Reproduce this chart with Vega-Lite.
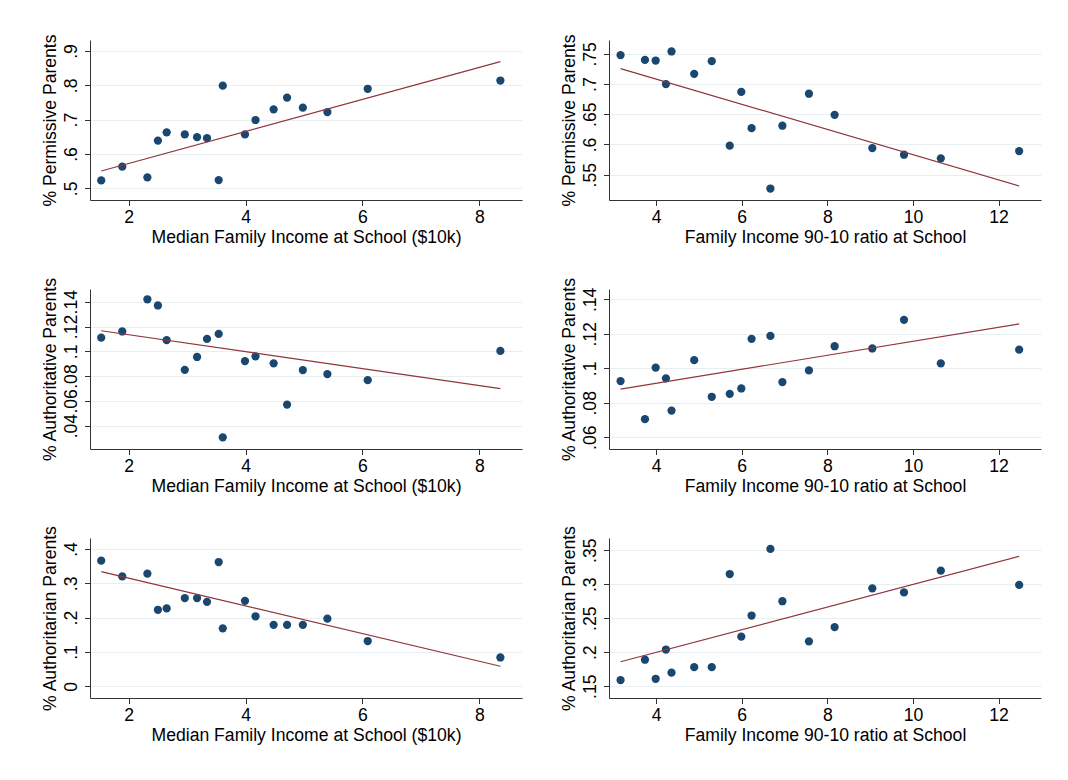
{
  "$schema": "https://vega.github.io/schema/vega-lite/v6.json",
  "background": "white",
  "padding": {"left": 41, "top": 33, "right": 5, "bottom": 5},
  "autosize": {"type": "pad"},
  "datasets": {
    "income": [
      {"income": 1.53, "permissive": 0.523, "authoritative": 0.111, "authoritarian": 0.366},
      {"income": 1.89, "permissive": 0.563, "authoritative": 0.116, "authoritarian": 0.320},
      {"income": 2.32, "permissive": 0.532, "authoritative": 0.142, "authoritarian": 0.328},
      {"income": 2.50, "permissive": 0.639, "authoritative": 0.137, "authoritarian": 0.223},
      {"income": 2.65, "permissive": 0.663, "authoritative": 0.109, "authoritarian": 0.227},
      {"income": 2.96, "permissive": 0.657, "authoritative": 0.085, "authoritarian": 0.257},
      {"income": 3.17, "permissive": 0.649, "authoritative": 0.0954, "authoritarian": 0.257},
      {"income": 3.34, "permissive": 0.646, "authoritative": 0.110, "authoritarian": 0.246},
      {"income": 3.54, "permissive": 0.524, "authoritative": 0.114, "authoritarian": 0.362},
      {"income": 3.61, "permissive": 0.799, "authoritative": 0.0305, "authoritarian": 0.169},
      {"income": 3.99, "permissive": 0.657, "authoritative": 0.0921, "authoritarian": 0.249},
      {"income": 4.17, "permissive": 0.699, "authoritative": 0.0959, "authoritarian": 0.204},
      {"income": 4.48, "permissive": 0.730, "authoritative": 0.0903, "authoritarian": 0.179},
      {"income": 4.71, "permissive": 0.764, "authoritative": 0.057, "authoritarian": 0.179},
      {"income": 4.98, "permissive": 0.735, "authoritative": 0.0848, "authoritarian": 0.179},
      {"income": 5.40, "permissive": 0.722, "authoritative": 0.0816, "authoritarian": 0.197},
      {"income": 6.09, "permissive": 0.790, "authoritative": 0.0767, "authoritarian": 0.132},
      {"income": 8.36, "permissive": 0.814, "authoritative": 0.1003, "authoritarian": 0.084}
    ],
    "fitIncome": [
      {"income": 1.53, "permissive": 0.5505, "authoritative": 0.1166, "authoritarian": 0.334},
      {"income": 8.36, "permissive": 0.869, "authoritative": 0.0699, "authoritarian": 0.0585}
    ],
    "ratio": [
      {"ratio": 3.17, "permissive": 0.748, "authoritative": 0.0926, "authoritarian": 0.159},
      {"ratio": 3.74, "permissive": 0.740, "authoritative": 0.0705, "authoritarian": 0.189},
      {"ratio": 3.99, "permissive": 0.739, "authoritative": 0.1004, "authoritarian": 0.161},
      {"ratio": 4.23, "permissive": 0.700, "authoritative": 0.0942, "authoritarian": 0.204},
      {"ratio": 4.36, "permissive": 0.754, "authoritative": 0.0755, "authoritarian": 0.170},
      {"ratio": 4.89, "permissive": 0.717, "authoritative": 0.1047, "authoritarian": 0.178},
      {"ratio": 5.30, "permissive": 0.738, "authoritative": 0.0835, "authoritarian": 0.178},
      {"ratio": 5.72, "permissive": 0.598, "authoritative": 0.0852, "authoritarian": 0.315},
      {"ratio": 5.99, "permissive": 0.687, "authoritative": 0.0883, "authoritarian": 0.223},
      {"ratio": 6.23, "permissive": 0.627, "authoritative": 0.1171, "authoritarian": 0.254},
      {"ratio": 6.67, "permissive": 0.527, "authoritative": 0.1188, "authoritarian": 0.352},
      {"ratio": 6.95, "permissive": 0.631, "authoritative": 0.0920, "authoritarian": 0.275},
      {"ratio": 7.57, "permissive": 0.684, "authoritative": 0.0988, "authoritarian": 0.216},
      {"ratio": 8.17, "permissive": 0.649, "authoritative": 0.1128, "authoritarian": 0.237},
      {"ratio": 9.05, "permissive": 0.594, "authoritative": 0.1115, "authoritarian": 0.294},
      {"ratio": 9.79, "permissive": 0.583, "authoritative": 0.1281, "authoritarian": 0.288},
      {"ratio": 10.65, "permissive": 0.577, "authoritative": 0.1029, "authoritarian": 0.320},
      {"ratio": 12.48, "permissive": 0.589, "authoritative": 0.1108, "authoritarian": 0.299}
    ],
    "fitRatio": [
      {"ratio": 3.17, "permissive": 0.7257, "authoritative": 0.0879, "authoritarian": 0.186},
      {"ratio": 12.48, "permissive": 0.5312, "authoritative": 0.1258, "authoritarian": 0.341}
    ]
  },
  "columns": 2,
  "bounds": "flush",
  "spacing": {"row": 89, "column": 87},
  "concat": [
    {
      "width": 432, "height": 160,
      "encoding": {
        "x": {"field": "income", "type": "quantitative", "scale": {"domain": [1.338, 8.73], "nice": false, "zero": false}, "axis": {"values": [2, 4, 6, 8], "title": "Median Family Income at School ($10k)"}},
        "y": {"field": "permissive", "type": "quantitative", "scale": {"domain": [0.466, 0.932], "nice": false, "zero": false}, "axis": {"values": [0.5, 0.6, 0.7, 0.8, 0.9], "title": "% Permissive Parents"}}
      },
      "layer": [
        {"data": {"name": "income"}, "mark": {"type": "point", "filled": true, "size": 68, "color": "#1a476f", "opacity": 1}},
        {"data": {"name": "fitIncome"}, "mark": {"type": "line", "color": "#90353b", "strokeWidth": 1.2}}
      ]
    },
    {
      "width": 432, "height": 160,
      "encoding": {
        "x": {"field": "ratio", "type": "quantitative", "scale": {"domain": [2.9, 12.99], "nice": false, "zero": false}, "axis": {"values": [4, 6, 8, 10, 12], "title": "Family Income 90-10 ratio at School"}},
        "y": {"field": "permissive", "type": "quantitative", "scale": {"domain": [0.508, 0.773], "nice": false, "zero": false}, "axis": {"values": [0.55, 0.6, 0.65, 0.7, 0.75], "title": "% Permissive Parents"}}
      },
      "layer": [
        {"data": {"name": "ratio"}, "mark": {"type": "point", "filled": true, "size": 68, "color": "#1a476f", "opacity": 1}},
        {"data": {"name": "fitRatio"}, "mark": {"type": "line", "color": "#90353b", "strokeWidth": 1.2}}
      ]
    },
    {
      "width": 432, "height": 160,
      "encoding": {
        "x": {"field": "income", "type": "quantitative", "scale": {"domain": [1.338, 8.73], "nice": false, "zero": false}, "axis": {"values": [2, 4, 6, 8], "title": "Median Family Income at School ($10k)"}},
        "y": {"field": "authoritative", "type": "quantitative", "scale": {"domain": [0.0211, 0.1503], "nice": false, "zero": false}, "axis": {"values": [0.04, 0.06, 0.08, 0.1, 0.12, 0.14], "title": "% Authoritative Parents"}}
      },
      "layer": [
        {"data": {"name": "income"}, "mark": {"type": "point", "filled": true, "size": 68, "color": "#1a476f", "opacity": 1}},
        {"data": {"name": "fitIncome"}, "mark": {"type": "line", "color": "#90353b", "strokeWidth": 1.2}}
      ]
    },
    {
      "width": 432, "height": 160,
      "encoding": {
        "x": {"field": "ratio", "type": "quantitative", "scale": {"domain": [2.9, 12.99], "nice": false, "zero": false}, "axis": {"values": [4, 6, 8, 10, 12], "title": "Family Income 90-10 ratio at School"}},
        "y": {"field": "authoritative", "type": "quantitative", "scale": {"domain": [0.0532, 0.146], "nice": false, "zero": false}, "axis": {"values": [0.06, 0.08, 0.1, 0.12, 0.14], "title": "% Authoritative Parents"}}
      },
      "layer": [
        {"data": {"name": "ratio"}, "mark": {"type": "point", "filled": true, "size": 68, "color": "#1a476f", "opacity": 1}},
        {"data": {"name": "fitRatio"}, "mark": {"type": "line", "color": "#90353b", "strokeWidth": 1.2}}
      ]
    },
    {
      "width": 432, "height": 160,
      "encoding": {
        "x": {"field": "income", "type": "quantitative", "scale": {"domain": [1.338, 8.73], "nice": false, "zero": false}, "axis": {"values": [2, 4, 6, 8], "title": "Median Family Income at School ($10k)"}},
        "y": {"field": "authoritarian", "type": "quantitative", "scale": {"domain": [-0.034, 0.432], "nice": false, "zero": false}, "axis": {"values": [0, 0.1, 0.2, 0.3, 0.4], "title": "% Authoritarian Parents"}}
      },
      "layer": [
        {"data": {"name": "income"}, "mark": {"type": "point", "filled": true, "size": 68, "color": "#1a476f", "opacity": 1}},
        {"data": {"name": "fitIncome"}, "mark": {"type": "line", "color": "#90353b", "strokeWidth": 1.2}}
      ]
    },
    {
      "width": 432, "height": 160,
      "encoding": {
        "x": {"field": "ratio", "type": "quantitative", "scale": {"domain": [2.9, 12.99], "nice": false, "zero": false}, "axis": {"values": [4, 6, 8, 10, 12], "title": "Family Income 90-10 ratio at School"}},
        "y": {"field": "authoritarian", "type": "quantitative", "scale": {"domain": [0.1327, 0.368], "nice": false, "zero": false}, "axis": {"values": [0.15, 0.2, 0.25, 0.3, 0.35], "title": "% Authoritarian Parents"}}
      },
      "layer": [
        {"data": {"name": "ratio"}, "mark": {"type": "point", "filled": true, "size": 68, "color": "#1a476f", "opacity": 1}},
        {"data": {"name": "fitRatio"}, "mark": {"type": "line", "color": "#90353b", "strokeWidth": 1.2}}
      ]
    }
  ],
  "config": {
    "font": "Liberation Sans",
    "view": {"stroke": null},
    "axis": {
      "domainColor": "#333333",
      "domainWidth": 1,
      "tickColor": "#333333",
      "tickWidth": 1,
      "tickSize": 5.5,
      "labelFont": "Liberation Sans",
      "labelFontSize": 17.6,
      "labelColor": "#000000",
      "labelOverlap": false,
      "labelFlush": false,
      "titleFont": "Liberation Sans",
      "titleFontSize": 17.6,
      "titleFontWeight": "normal",
      "titleColor": "#000000"
    },
    "axisX": {"grid": false, "labelPadding": 3, "titlePadding": 2, "format": "d"},
    "axisY": {
      "grid": true,
      "gridColor": "#e8eff1",
      "gridWidth": 1,
      "labelAngle": 270,
      "labelAlign": "center",
      "labelBaseline": "bottom",
      "labelPadding": 4,
      "titlePadding": 3,
      "labelExpr": "replace(format(datum.value, '.2~f'), '0.', '.')"
    }
  }
}
